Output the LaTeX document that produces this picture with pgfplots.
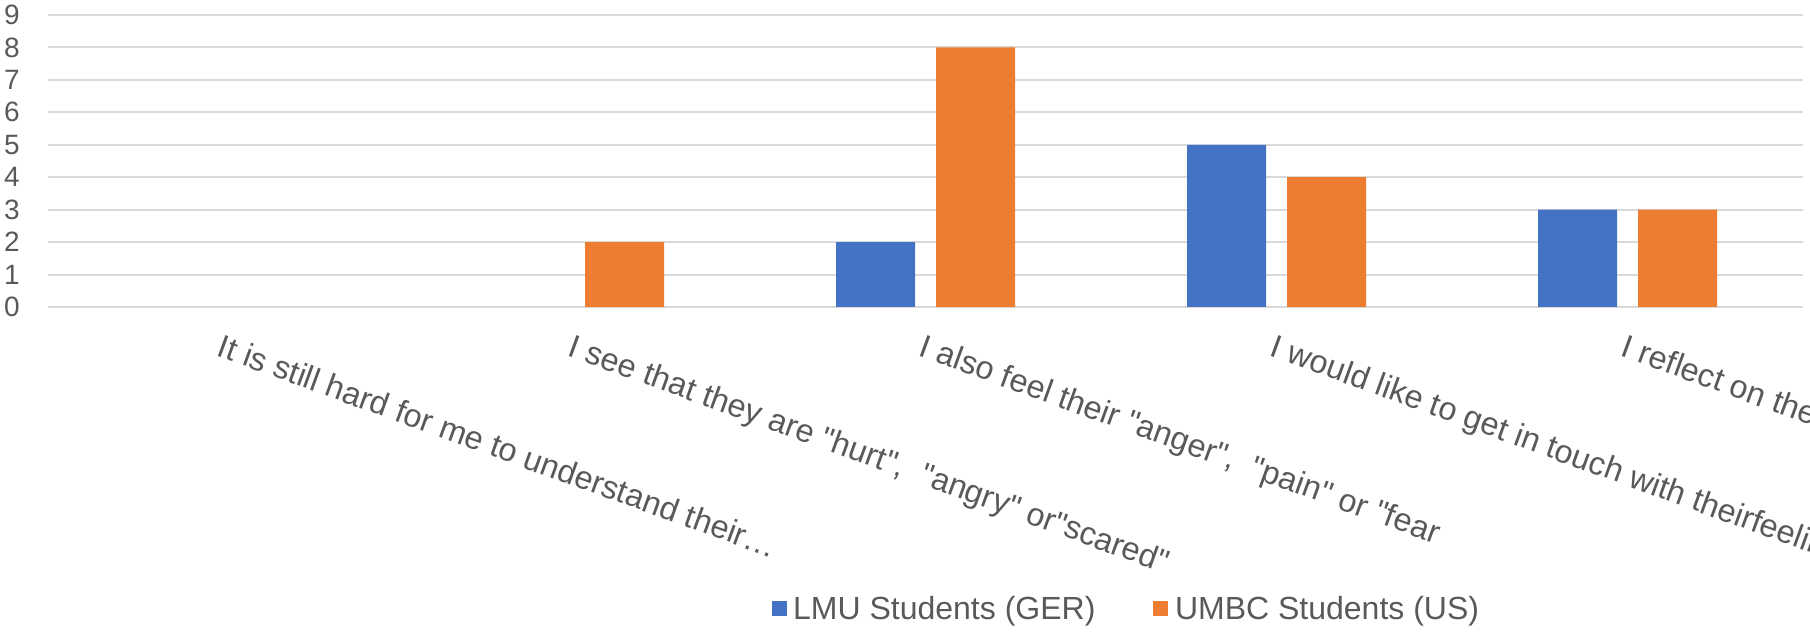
\documentclass[border=0pt]{standalone}
\usepackage{pgfplots}
\pgfplotsset{compat=1.18}
\usepackage{fontspec}
\setmainfont{Liberation Sans}
\newfontfamily\qfont{Liberation Sans}
\definecolor{lmu}{HTML}{4472C4}
\definecolor{umbc}{HTML}{ED7D31}
\definecolor{txt}{HTML}{595959}
\definecolor{grd}{HTML}{D9D9D9}
\newcommand{\q}{{\qfont\symbol{34}}}
\begin{document}
\begin{tikzpicture}
\begin{axis}[
  scale only axis, width=877.5bp, height=146bp,
  at={(24bp,163.5bp)}, anchor=south west,
  xmin=-0.5, xmax=4.5, ymin=0, ymax=9,
  ytick={0,1,2,3,4,5,6,7,8,9},
  xtick={0,1,2,3,4},
  xticklabels={
    {It is still hard for me to understand their…},
    {I see that they are \q hurt\q,\ \ \q angry\q\ or\q scared\q},
    {I also feel their \q anger\q,\ \ \q pain\q\ or \q fear},
    {I would like to get in touch with theirfeelings},
    {I reflect on their feelings}},
  ybar=10.5bp, bar width=39.5bp,
  axis line style={draw=none},
  major tick length=0pt,
  ymajorgrids, grid style={draw=grd, line width=1bp},
  /pgf/number format/assume math mode=true,
  yticklabel style={font=\fontsize{14bp}{16bp}\selectfont, text=txt, anchor=east, inner sep=0pt, xshift=-14bp},
  xticklabel style={font=\fontsize{16.2bp}{19bp}\selectfont, text=txt, inner sep=0pt, yshift=-13bp, rotate=-20, anchor=north west},
  legend style={at={(0.615,-1.034)}, anchor=center, draw=none, fill=none, legend columns=2,
    font=\fontsize{16bp}{19bp}\selectfont, text=txt,
    /tikz/every even column/.append style={column sep=27bp}},
  legend image code/.code={\fill[#1] (0bp,-3.75bp) rectangle (7.5bp,3.75bp); \path (8.8bp,0bp);},
]
\addplot[fill=lmu, draw=none] coordinates {(0,0) (1,0) (2,2) (3,5) (4,3)};
\addplot[fill=umbc, draw=none] coordinates {(0,0) (1,2) (2,8) (3,4) (4,3)};
\legend{LMU Students (GER), UMBC Students (US)}
\end{axis}
\pgfresetboundingbox
\path (0,0) rectangle (905bp,317bp);
\end{tikzpicture}
\end{document}
